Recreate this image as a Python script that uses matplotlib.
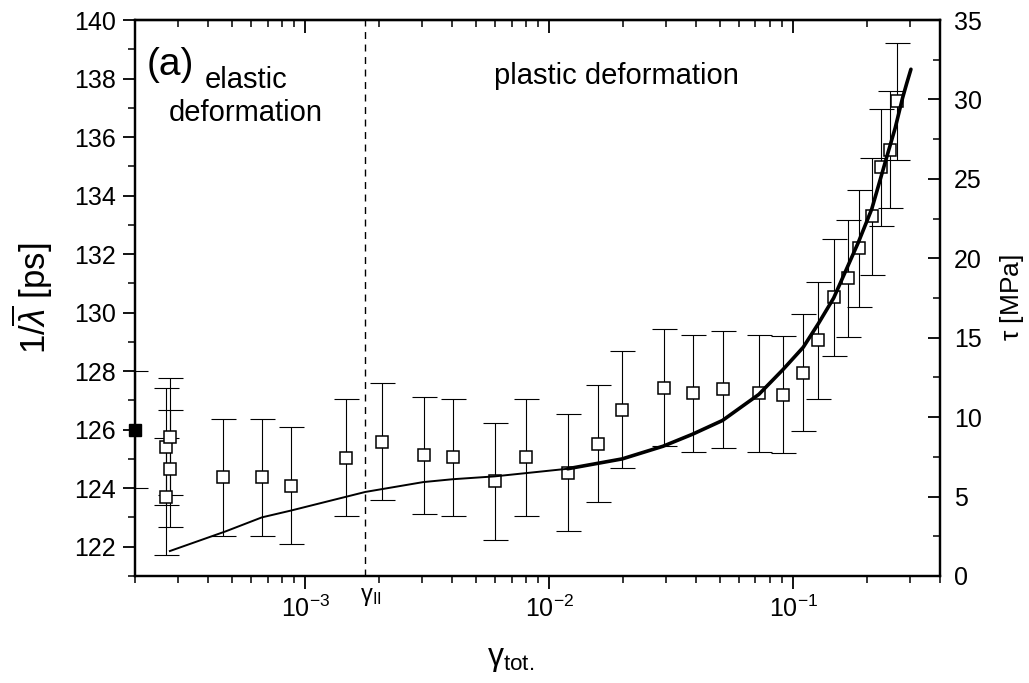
"""
Positron lifetime 1/lambda and shear stress tau vs total strain (panel a).
Writes out.png in the working directory.
"""

import matplotlib
matplotlib.use('Agg')
import matplotlib.pyplot as plt
from matplotlib.ticker import MultipleLocator, NullFormatter, LogLocator

plt.rcParams['font.family'] = ['Liberation Sans', 'DejaVu Sans']
plt.rcParams['mathtext.fontset'] = 'custom'
plt.rcParams['mathtext.rm'] = 'Liberation Sans'
plt.rcParams['mathtext.it'] = 'Liberation Sans:italic'
plt.rcParams['mathtext.bf'] = 'Liberation Sans:bold'

# Measured mean lifetime (open squares), error +-2 ps
STRAIN = [2.69e-4, 2.79e-4, 2.79e-4, 2.69e-4, 4.60e-4, 6.65e-4, 8.75e-4,
          1.46e-3, 2.06e-3, 3.05e-3, 4.02e-3, 5.97e-3, 8.02e-3, 1.19e-2,
          1.585e-2, 1.995e-2, 2.94e-2, 3.87e-2, 5.14e-2, 7.23e-2, 9.07e-2,
          0.1097, 0.1267, 0.1466, 0.168, 0.187, 0.210, 0.229, 0.250, 0.2655]
LIFETIME = [125.42, 125.76, 124.66, 123.70, 124.38, 124.37, 124.09,
            125.04, 125.58, 125.13, 125.06, 124.24, 125.05, 124.53,
            125.52, 126.68, 127.43, 127.25, 127.38, 127.24, 127.20,
            127.95, 129.05, 130.52, 131.17, 132.20, 133.30, 134.97, 135.57, 137.22]
LIFETIME_ERR = [2.0, 2.0, 2.0, 2.0, 2.0, 2.0, 2.0, 2.0, 2.0, 2.0,
                2.0, 2.0, 2.0, 2.0, 2.0, 2.0, 2.0, 2.0, 2.0, 2.0,
                2.0, 2.0, 2.0, 2.0, 2.0, 2.0, 2.0, 2.0, 2.0, 2.0]

# Undeformed reference (filled square on the left axis)
REF_STRAIN = [2.0e-4]
REF_LIFETIME = [126.0]
REF_ERR = [2.0]

# Stress-strain curve (right axis)
CURVE_STRAIN = [2.78e-4, 4.71e-4, 6.63e-4, 8.73e-4, 1.76e-3, 3.04e-3, 4.01e-3,
                5.97e-3, 1.19e-2, 1.99e-2, 2.93e-2, 3.86e-2, 5.13e-2, 7.23e-2,
                9.09e-2, 0.110, 0.127, 0.1466, 0.185, 0.210, 0.238, 0.262,
                0.281, 0.292, 0.304]
CURVE_TAU = [1.57, 2.81, 3.69, 4.12, 5.29, 5.91, 6.09,
             6.27, 6.75, 7.37, 8.17, 8.92, 9.79, 11.43,
             13.0, 14.4, 15.9, 17.5, 21.0, 23.1, 26.0, 28.2,
             30.1, 31.0, 31.9]

GAMMA_II = 1.75e-3
THICK_FROM = 1.1e-2

FS_TICK = 18
FS_NOTE = 21


def main():
    fig = plt.figure(figsize=(10.29, 6.83), dpi=100)
    ax = fig.add_axes([0.1312, 0.1567, 0.7823, 0.814])

    ax.errorbar(STRAIN, LIFETIME, yerr=LIFETIME_ERR, fmt='none', ecolor='black',
                elinewidth=0.8, capsize=9, capthick=0.8, zorder=2)
    ax.plot(STRAIN, LIFETIME, ls='none', marker='s', ms=8.5, mfc='white',
            mec='black', mew=1.1, zorder=3)
    ax.errorbar(REF_STRAIN, REF_LIFETIME, yerr=REF_ERR, fmt='none', ecolor='black',
                elinewidth=0.8, capsize=9, capthick=0.8, zorder=2)
    ax.plot(REF_STRAIN, REF_LIFETIME, ls='none', marker='s', ms=8.5, mfc='black',
            mec='black', clip_on=False, zorder=4)

    ax.axvline(GAMMA_II, color='black', lw=1.0, ls=(0, (5, 4)), zorder=1)

    ax.set_xscale('log')
    ax.set_xlim(2e-4, 0.4)
    ax.set_ylim(121, 140)
    ax.xaxis.set_major_locator(LogLocator(base=10))
    ax.xaxis.set_minor_locator(LogLocator(base=10, subs=range(2, 10)))
    ax.xaxis.set_minor_formatter(NullFormatter())
    ax.yaxis.set_major_locator(MultipleLocator(2))
    ax.yaxis.set_minor_locator(MultipleLocator(1))
    ax.tick_params(axis='both', which='major', direction='out', length=9,
                   width=1.3, labelsize=FS_TICK, pad=5)
    ax.tick_params(axis='both', which='minor', direction='out', length=5, width=1.1)
    ax.tick_params(axis='y', right=False)
    for sp in ax.spines.values():
        sp.set_linewidth(1.6)

    # inward ticks mirrored on top, no labels
    top = ax.secondary_xaxis('top')
    top.xaxis.set_minor_formatter(NullFormatter())
    top.tick_params(which='major', direction='in', length=9, width=1.3, labeltop=False)
    top.tick_params(which='minor', direction='in', length=5, width=1.1)
    top.spines['top'].set_linewidth(1.6)

    ax.set_ylabel(r'$1/\overline{\lambda}$ [ps]', fontsize=25)
    ax.yaxis.set_label_coords(-0.1, 0.5)
    ax.set_xlabel(r'$\mathrm{\gamma}_{\mathrm{tot.}}$', fontsize=23)
    ax.xaxis.set_label_coords(0.467, -0.122)

    # right axis: shear stress
    ax2 = ax.twinx()
    ax2.plot(CURVE_STRAIN, CURVE_TAU, color='black', lw=1.4, zorder=5)
    thick_x = [s for s in CURVE_STRAIN if s >= THICK_FROM]
    thick_y = [t for s, t in zip(CURVE_STRAIN, CURVE_TAU) if s >= THICK_FROM]
    ax2.plot(thick_x, thick_y, color='black', lw=2.6, zorder=5,
             solid_capstyle='round')
    ax2.set_ylim(0, 35)
    ax2.yaxis.set_major_locator(MultipleLocator(5))
    ax2.yaxis.set_minor_locator(MultipleLocator(2.5))
    ax2.tick_params(axis='y', which='major', direction='in', length=9, width=1.3,
                    labelsize=FS_TICK, pad=10)
    ax2.tick_params(axis='y', which='minor', direction='in', length=5, width=1.1)
    ax2.set_ylabel(r'$\mathrm{\tau}$ [MPa]', fontsize=19)
    ax2.yaxis.set_label_coords(1.072, 0.5)
    for sp in ax2.spines.values():
        sp.set_linewidth(1.6)

    ax.text(0.014, 0.919, '(a)', transform=ax.transAxes, fontsize=28,
            ha='left', va='center')
    ax.text(0.138, 0.892, 'elastic', transform=ax.transAxes, fontsize=FS_NOTE,
            ha='center', va='center')
    ax.text(0.138, 0.833, 'deformation', transform=ax.transAxes, fontsize=FS_NOTE,
            ha='center', va='center')
    ax.text(0.446, 0.899, 'plastic deformation', transform=ax.transAxes,
            fontsize=FS_NOTE, ha='left', va='center')
    ax.text(GAMMA_II * 1.06, -0.038, r'$\mathrm{\gamma}_{\mathrm{II}}$',
            transform=ax.get_xaxis_transform(), fontsize=17,
            ha='center', va='center')

    fig.savefig('out.png', dpi=100)
    plt.close(fig)


if __name__ == '__main__':
    main()
